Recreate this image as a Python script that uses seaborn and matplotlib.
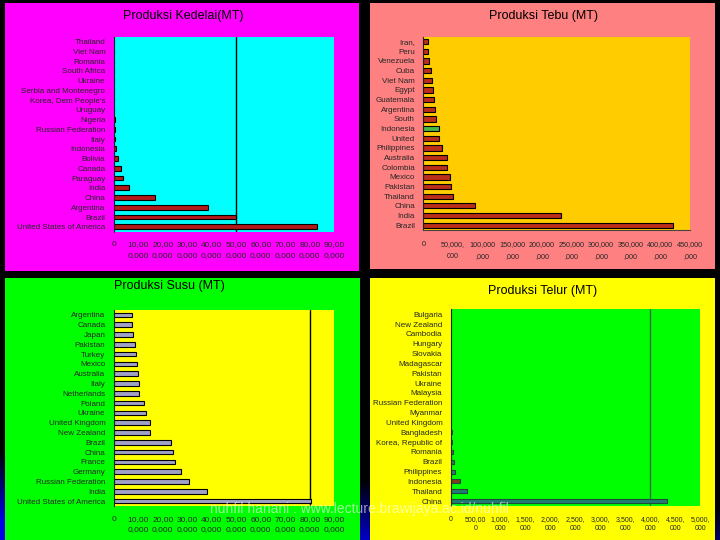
import numpy as np
import pandas as pd
import matplotlib
matplotlib.use("Agg")
import matplotlib.pyplot as plt
from matplotlib.patches import Rectangle
import seaborn as sns

sns.set_style("white")
plt.rcParams['font.family'] = ['Liberation Sans', 'DejaVu Sans']

# ---------------- data ----------------
kedelai_countries = ["Thailand", "Viet Nam", "Romania", "South Africa", "Ukraine",
                     "Serbia and Montenegro", "Korea, Dem People's", "Uruguay", "Nigeria",
                     "Russian Federation", "Italy", "Indonesia", "Bolivia", "Canada",
                     "Paraguay", "India", "China", "Argentina", "Brazil",
                     "United States of America"]
kedelai_values = [0.2e6, 0.2e6, 0.2e6, 0.2e6, 0.2e6, 0.2e6, 0.3e6, 0.3e6, 0.4e6,
                  0.7e6, 0.7e6, 0.8e6, 1.6e6, 2.9e6, 3.7e6, 6.4e6, 17.0e6, 38.3e6,
                  50.0e6, 83.1e6]
kedelai_ticks = [0, 10e6, 20e6, 30e6, 40e6, 50e6, 60e6, 70e6, 80e6, 90e6]
kedelai_ticklabels = ["0", "10,00\n0,000", "20,00\n0,000", "30,00\n0,000", "40,00\n0,000",
                      "50,00\n0,000", "60,00\n0,000", "70,00\n0,000", "80,00\n0,000",
                      "90,00\n0,000"]

tebu_countries = ["Iran,", "Peru", "Venezuela", "Cuba", "Viet Nam", "Egypt", "Guatemala",
                  "Argentina", "South", "Indonesia", "United", "Philippines", "Australia",
                  "Colombia", "Mexico", "Pakistan", "Thailand", "China", "India", "Brazil"]
tebu_values = [7.3e6, 7.3e6, 9.0e6, 12.4e6, 14.1e6, 15.8e6, 17.4e6, 19.2e6, 21.4e6,
               26.0e6, 25.9e6, 31.0e6, 39.8e6, 39.4e6, 45.6e6, 46.1e6, 49.5e6, 87.8e6,
               232.9e6, 420.8e6]
tebu_ticks = [0, 50e6, 100e6, 150e6, 200e6, 250e6, 300e6, 350e6, 400e6, 450e6]
tebu_ticklabels = ["0", "50,000,\n000", "100,000\n,000", "150,000\n,000", "200,000\n,000",
                   "250,000\n,000", "300,000\n,000", "350,000\n,000", "400,000\n,000",
                   "450,000\n,000"]

susu_countries = ["Argentina", "Canada", "Japan", "Pakistan", "Turkey", "Mexico",
                  "Australia", "Italy", "Netherlands", "Poland", "Ukraine",
                  "United Kingdom", "New Zealand", "Brazil", "China", "France", "Germany",
                  "Russian Federation", "India", "United States of America"]
susu_values = [7.6e6, 7.6e6, 8.0e6, 8.8e6, 9.2e6, 9.6e6, 10.0e6, 10.2e6, 10.2e6, 12.5e6,
               13.3e6, 14.7e6, 14.7e6, 23.3e6, 24.3e6, 24.9e6, 27.6e6, 30.6e6, 38.2e6,
               80.6e6]
susu_ticks = kedelai_ticks
susu_ticklabels = kedelai_ticklabels

telur_countries = ["Bulgaria", "New Zealand", "Cambodia", "Hungary", "Slovakia",
                   "Madagascar", "Pakistan", "Ukraine", "Malaysia", "Russian Federation",
                   "Myanmar", "United Kingdom", "Bangladesh", "Korea, Republic of",
                   "Romania", "Brazil", "Philippines", "Indonesia", "Thailand", "China"]
telur_values = [0.005e6, 0.005e6, 0.005e6, 0.006e6, 0.006e6, 0.007e6, 0.008e6, 0.009e6,
                0.010e6, 0.011e6, 0.012e6, 0.013e6, 0.03e6, 0.035e6, 0.04e6, 0.06e6,
                0.08e6, 0.18e6, 0.32e6, 4.34e6]
telur_ticks = [0, 0.5e6, 1.0e6, 1.5e6, 2.0e6, 2.5e6, 3.0e6, 3.5e6, 4.0e6, 4.5e6, 5.0e6]
telur_ticklabels = ["0", "500,00\n0", "1,000,\n000", "1,500,\n000", "2,000,\n000",
                    "2,500,\n000", "3,000,\n000", "3,500,\n000", "4,000,\n000",
                    "4,500,\n000", "5,000,\n000"]

titles = ["Produksi Kedelai(MT)", "Produksi Tebu (MT)", "Produksi Susu (MT)",
          "Produksi Telur (MT)"]
watermark = "nuhfil hanani : www.lecture.brawijaya.ac.id/nuhfil"

# ---------------- figure ----------------
W, H = 720, 540
fig = plt.figure(figsize=(7.2, 5.4), dpi=100)
fig.patch.set_facecolor("black")

# background gradient (black -> blue towards bottom-left)
bg = fig.add_axes([0, 0, 1, 1], zorder=-10)
yy, xx = np.mgrid[0:H, 0:W]
t = np.clip((yy - 450 - 0.08 * xx) / 70.0, 0, 1)
img = np.zeros((H, W, 3))
img[..., 2] = 0.9 * t
bg.imshow(img, aspect="auto", extent=[0, W, H, 0])
bg.set_axis_off()


def rect_px(x0, y0, x1, y1):
    return [x0 / W, 1 - y1 / H, (x1 - x0) / W, (y1 - y0) / H]


def panel(x0, y0, x1, y1, color):
    l, b, w, h = rect_px(x0, y0, x1, y1)
    fig.add_artist(Rectangle((l, b), w, h, transform=fig.transFigure,
                             facecolor=color, edgecolor="none", zorder=-5))


panel(5, 3, 359, 271, "#FF00FF")
panel(370, 3, 715, 269, "#FF8080")
panel(5, 278, 360, 540, "#00FF00")
panel(370, 278, 715, 540, "#FFFF00")


def make_axes(box, face, countries, values, colors, xmax, ticks, ticklabels,
              vline=None, vcolor="black", width=0.5, edge="black", bottom_spine=False,
              ylab_size=5.8, tick_fs=6.0, tick_pad=6.0, linesp=1.45):
    ax = fig.add_axes(rect_px(*box))
    ax.set_facecolor(face)
    df = pd.DataFrame({"country": countries, "value": values})
    sns.barplot(data=df, x="value", y="country", hue="country", palette=colors,
                legend=False, orient="h", width=width, edgecolor=edge, linewidth=0.8,
                ax=ax)
    ax.set_xlim(0, xmax)
    ax.set_xlabel("")
    ax.set_ylabel("")
    ax.set_xticks(ticks)
    ax.set_xticklabels(ticklabels, fontsize=tick_fs)
    for lbl in ax.get_xticklabels():
        lbl.set_linespacing(linesp)
    ax.tick_params(axis="x", length=0, pad=tick_pad)
    ax.tick_params(axis="y", length=0, pad=6, labelsize=ylab_size)
    for s in ["top", "right", "bottom", "left"]:
        ax.spines[s].set_visible(False)
    ax.spines["left"].set_visible(True)
    ax.spines["left"].set_color("#222222")
    ax.spines["left"].set_linewidth(0.8)
    if bottom_spine:
        ax.spines["bottom"].set_visible(True)
        ax.spines["bottom"].set_color("#444444")
        ax.spines["bottom"].set_linewidth(0.8)
    if vline is not None:
        ax.axvline(vline, color=vcolor, linewidth=1.0, zorder=0.5)
    return ax


# Kedelai
make_axes((113.7, 36.7, 334.3, 231.7), "#00FFFF", kedelai_countries, kedelai_values,
          ["#CC0000"] * len(kedelai_countries), 90e6, kedelai_ticks, kedelai_ticklabels,
          vline=50e6, width=0.48, tick_fs=6.0, tick_pad=6.5, linesp=1.9)

# Tebu
tebu_colors = ["#D41A00"] * len(tebu_countries)
tebu_colors[tebu_countries.index("Indonesia")] = "#33CC33"
make_axes((423.3, 36.7, 690, 230), "#FFCC00", tebu_countries, tebu_values,
          tebu_colors, 450e6, tebu_ticks, tebu_ticklabels, width=0.55, bottom_spine=True,
          tick_fs=5.2, tick_pad=8.0, linesp=1.95)

# Susu
make_axes((113.7, 310, 334.3, 506), "#FFFF00", susu_countries, susu_values,
          ["#9C9CCC"] * len(susu_countries), 90e6, susu_ticks, susu_ticklabels,
          vline=80e6, width=0.48, tick_fs=6.0, tick_pad=7.0, linesp=1.6)

# Telur
telur_colors = ["#148A80"] * len(telur_countries)
telur_colors[telur_countries.index("Indonesia")] = "#8B3A0F"
make_axes((450.7, 309.3, 700.3, 506), "#00FF00", telur_countries, telur_values,
          telur_colors, 5e6, telur_ticks, telur_ticklabels, vline=4e6, vcolor="#2F6F3F",
          width=0.4, edge="#1E4A3A", tick_fs=5.0, tick_pad=7.0, linesp=1.5)

# titles
for (cx, cy), txt in zip([(183, 16), (543.7, 15.7), (169.7, 286), (543, 290.7)], titles):
    fig.text(cx / W, 1 - cy / H, txt, ha="center", va="center", fontsize=9,
             color="black")

# watermark
fig.text(210 / W, 1 - 509 / H, watermark, ha="left", va="center", fontsize=10,
         color="white", alpha=0.6, zorder=20)

fig.savefig("out.png", dpi=100, facecolor=fig.get_facecolor())
